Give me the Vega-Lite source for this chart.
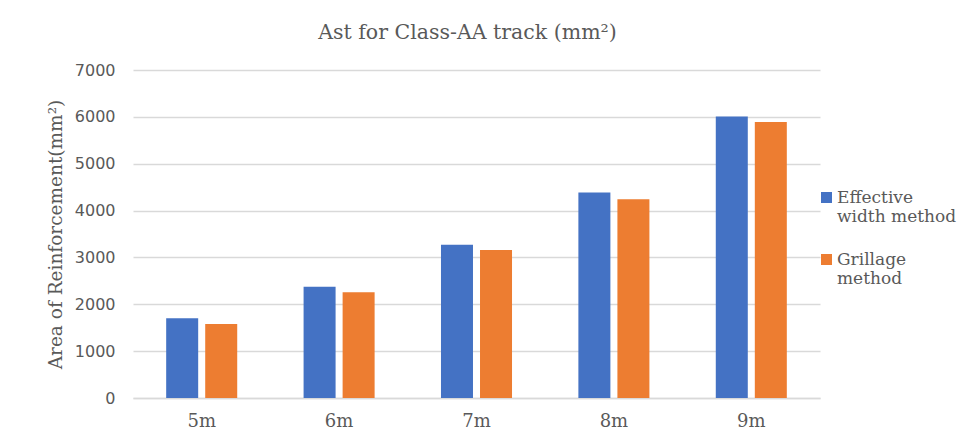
{
  "$schema": "https://vega.github.io/schema/vega-lite/v6.json",
  "autosize": "none",
  "width": 687,
  "height": 328,
  "padding": {"left": 133, "top": 70, "right": 137, "bottom": 47},
  "background": "white",
  "title": {
    "text": "Ast for Class-AA track (mm²)",
    "font": "DejaVu Serif",
    "fontSize": 20.5,
    "fontWeight": "normal",
    "color": "#595959",
    "offset": 19,
    "dx": -9
  },
  "data": {
    "values": [
      {"span": "5m", "method": "Effective width method", "ast": 1700},
      {"span": "5m", "method": "Grillage method", "ast": 1580},
      {"span": "6m", "method": "Effective width method", "ast": 2375},
      {"span": "6m", "method": "Grillage method", "ast": 2255},
      {"span": "7m", "method": "Effective width method", "ast": 3270},
      {"span": "7m", "method": "Grillage method", "ast": 3160},
      {"span": "8m", "method": "Effective width method", "ast": 4385},
      {"span": "8m", "method": "Grillage method", "ast": 4240},
      {"span": "9m", "method": "Effective width method", "ast": 6005},
      {"span": "9m", "method": "Grillage method", "ast": 5890}
    ]
  },
  "mark": {"type": "bar"},
  "encoding": {
    "x": {
      "field": "span",
      "type": "nominal",
      "sort": null,
      "scale": {"paddingInner": 0.483, "paddingOuter": 0.2415},
      "axis": {
        "title": null,
        "labelAngle": 0,
        "labelFont": "DejaVu Serif",
        "labelFontSize": 18,
        "labelColor": "#595959",
        "labelPadding": 14,
        "ticks": false,
        "tickSize": 0,
        "domainColor": "#d9d9d9",
        "domainWidth": 1.5
      }
    },
    "xOffset": {
      "field": "method",
      "type": "nominal",
      "scale": {"paddingInner": 0.18, "paddingOuter": 0}
    },
    "y": {
      "field": "ast",
      "type": "quantitative",
      "scale": {"domain": [0, 7000], "nice": false},
      "axis": {
        "title": "Area of Reinforcement(mm²)",
        "titleFont": "DejaVu Serif",
        "titleFontSize": 18.5,
        "titleFontWeight": "normal",
        "titleColor": "#595959",
        "titlePadding": 9,
        "values": [0, 1000, 2000, 3000, 4000, 5000, 6000, 7000],
        "format": "d",
        "labelFont": "DejaVu Sans",
        "labelFontSize": 16,
        "labelColor": "#595959",
        "labelPadding": 18,
        "ticks": false,
        "tickSize": 0,
        "domain": false,
        "grid": true,
        "gridColor": "#d9d9d9",
        "gridWidth": 1.5
      }
    },
    "color": {
      "field": "method",
      "type": "nominal",
      "scale": {
        "domain": ["Effective width method", "Grillage method"],
        "range": ["#4472C4", "#ED7D31"]
      },
      "legend": {
        "title": null,
        "orient": "none",
        "legendX": 685,
        "legendY": 119,
        "padding": 0,
        "symbolType": "square",
        "symbolSize": 121,
        "symbolStrokeWidth": 0,
        "labelFont": "DejaVu Serif",
        "labelFontSize": 17,
        "labelColor": "#595959",
        "labelOffset": 2,
        "labelLimit": 200,
        "rowPadding": 25,
        "labelExpr": "datum.label == 'Effective width method' ? ['Effective', 'width method'] : ['Grillage', 'method']"
      }
    }
  },
  "config": {
    "view": {"stroke": null}
  }
}
